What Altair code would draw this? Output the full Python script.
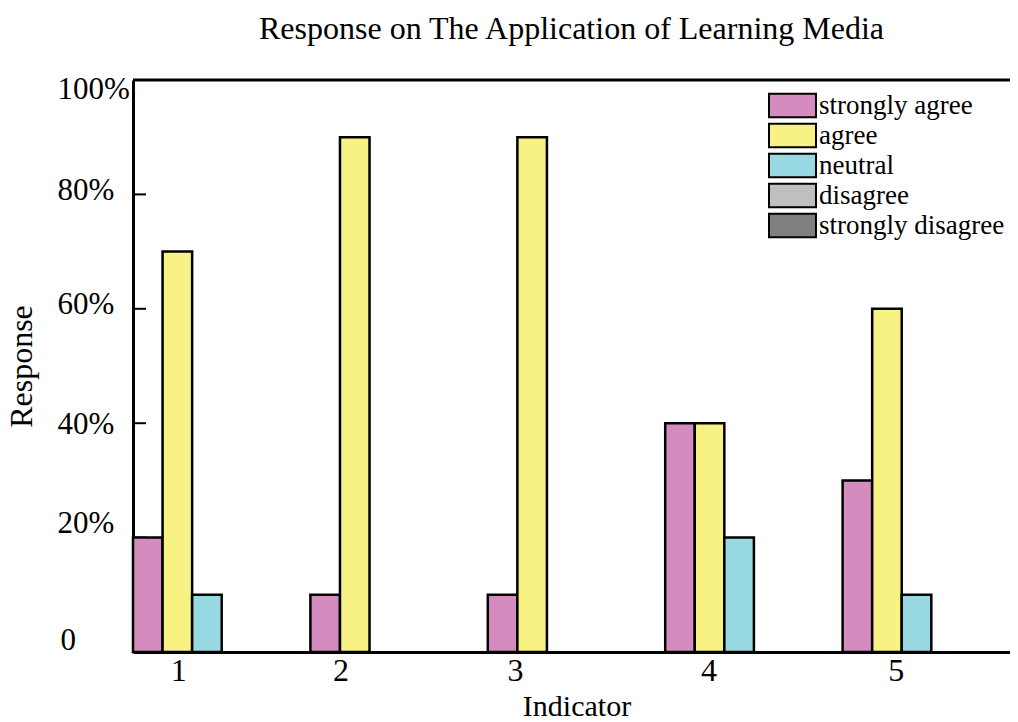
import altair as alt
import pandas as pd

indicators = ["1", "2", "3", "4", "5"]
categories = ["strongly agree", "agree", "neutral", "disagree", "strongly disagree"]
colors = ["#D48BBE", "#F7F283", "#99D9E4", "#BFBFBF", "#7F7F7F"]
strongly_agree = [0.2, 0.1, 0.1, 0.4, 0.3]
agree = [0.7, 0.9, 0.9, 0.4, 0.6]
neutral = [0.1, 0.0, 0.0, 0.2, 0.1]
disagree = [0.0, 0.0, 0.0, 0.0, 0.0]
strongly_disagree = [0.0, 0.0, 0.0, 0.0, 0.0]
y_labels = [0, 0.2, 0.4, 0.6, 0.8, 1.0]
inner_ticks = [0.2, 0.4, 0.6, 0.8]

rows = []
for cat, vals in zip(categories, [strongly_agree, agree, neutral, disagree, strongly_disagree]):
    for ind, v in zip(indicators, vals):
        rows.append({"Indicator": ind, "Category": cat, "Response": v})
df = pd.DataFrame(rows)

FONT = "Liberation Serif"
W, H = 877, 572

# small placement nudges of tick labels, as in the original figure
x_label_shift = {"1": -43, "2": -58, "3": -61, "4": -45, "5": -35}
y_label_shift = {0: -12, 0.2: -14, 0.4: 1, 0.6: -4, 0.8: -4, 1.0: 9}

x_offset_cond = {
    "condition": [{"test": f"datum.value == '{k}'", "value": v} for k, v in x_label_shift.items()],
    "value": -44,
}
y_offset_cond = {
    "condition": [{"test": f"abs(datum.value - {k}) < 0.001", "value": v} for k, v in y_label_shift.items()],
    "value": 0,
}
y_pad_cond = {
    "condition": {"test": "datum.value == 0", "value": 73},
    "value": 76,
}

y_enc = alt.Y(
    "Response:Q",
    scale=alt.Scale(domain=[0, 1], nice=False),
    axis=alt.Axis(
        values=y_labels,
        labelExpr="datum.value == 0 ? '0' : format(datum.value, '.0%')",
        ticks=False, grid=False, title="Response",
        labelAlign="left", labelPadding=y_pad_cond, titlePadding=19,
        labelOffset=y_offset_cond, labelFontSize=31,
    ),
)

bars = alt.Chart(df).transform_filter("datum.Response > 0").mark_bar(
    stroke="black", strokeWidth=2.5
).encode(
    x=alt.X(
        "Indicator:N", sort=indicators,
        scale=alt.Scale(domain=indicators, range=[0, 887], paddingInner=0, paddingOuter=0),
        axis=alt.Axis(title="Indicator", labelAngle=0, ticks=False, labelOffset=x_offset_cond,
                      labelPadding=3, titlePadding=5, grid=False, titleFontSize=30),
    ),
    xOffset=alt.XOffset(
        "Category:N",
        scale=alt.Scale(domain=categories, paddingInner=0, paddingOuter=0.5, align=0),
    ),
    y=y_enc,
    color=alt.Color(
        "Category:N",
        scale=alt.Scale(domain=categories, range=colors),
        legend=alt.Legend(
            title=None, orient="none", legendX=646, legendY=12,
            symbolType="M-2,-1H2V1H-2Z", symbolSize=552,
            symbolStrokeColor="black", symbolStrokeWidth=2, symbolOpacity=1,
            labelFont=FONT, labelFontSize=27, labelColor="black",
            labelOffset=13, rowPadding=-3, labelLimit=400,
        ),
    ),
)

ticks = alt.Chart(pd.DataFrame({"Response": inner_ticks})).mark_rule(
    color="black", strokeWidth=2
).encode(y=alt.Y("Response:Q"), x=alt.value(0), x2=alt.value(13))

top = alt.Chart(pd.DataFrame({"a": [0]})).mark_rule(
    color="black", strokeWidth=3
).encode(x=alt.value(0), x2=alt.value(895), y=alt.value(0))

chart = alt.layer(ticks, bars, top).properties(
    width=W, height=H,
    padding={"left": 125, "top": 72, "right": 0, "bottom": 70},
    autosize=alt.AutoSizeParams(type="none"),
    title=alt.TitleParams(
        "Response on The Application of Learning Media",
        font=FONT, fontSize=32, fontWeight="normal", color="black",
        anchor="middle", offset=27,
    ),
).configure_view(stroke=None).configure_axis(
    domainColor="black", domainWidth=3,
    labelFont=FONT, labelFontSize=32, labelColor="black",
    titleFont=FONT, titleFontSize=32, titleFontWeight="normal", titleColor="black",
)

chart.save("out.html", embed_options={"renderer": "svg", "actions": False})
